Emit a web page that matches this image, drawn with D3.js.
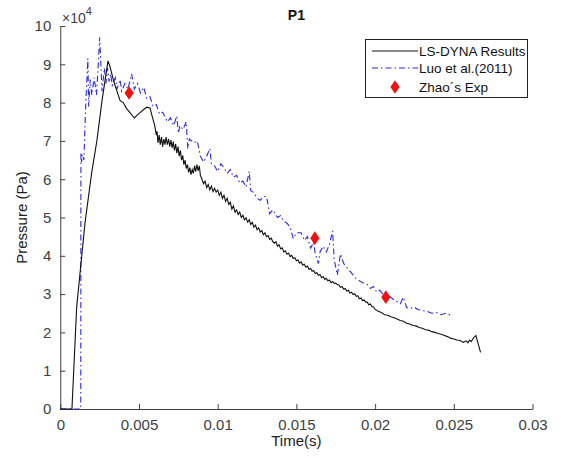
<!DOCTYPE html>
<html><head><meta charset="utf-8">
<script src="https://cdn.jsdelivr.net/npm/d3@7/dist/d3.min.js"></script>
<style>body{margin:0;background:#fff}svg{display:block}text{font-family:"Liberation Sans",Arial,sans-serif}</style>
</head><body><svg id="c" width="574" height="461"></svg>
<script>
// LS-DYNA Results: time (s), pressure (x10^4 Pa)
const lsdynaT = [0,0.00074,0.00104,0.00157,0.00199,0.00233,0.00265,0.00303,0.00315,0.0034,0.0036,0.0038,0.0040,0.0042,0.0044,0.0046,0.0047,0.0049,0.0051,0.0053,0.0055,0.0057,0.0058,0.0059,0.0060,0.0061,0.00615,0.0062,0.00628,0.00635,0.00643,0.0065,0.00658,0.00665,0.00672,0.0068,0.00688,0.00695,0.00703,0.0071,0.00718,0.00725,0.00733,0.0074,0.00748,0.00755,0.00763,0.0077,0.00778,0.00785,0.00793,0.008,0.00808,0.00815,0.00823,0.0083,0.00838,0.00845,0.00853,0.0086,0.00868,0.00875,0.00883,0.0089,0.009,0.0091,0.0092,0.0093,0.0094,0.0095,0.0096,0.0097,0.0098,0.0099,0.0100,0.0101,0.0102,0.0103,0.0104,0.0105,0.0106,0.0107,0.0108,0.0109,0.0110,0.0111,0.0112,0.0113,0.0114,0.0115,0.0116,0.0117,0.0118,0.0119,0.0120,0.0121,0.0122,0.0123,0.0124,0.0125,0.0126,0.0127,0.0128,0.0129,0.0130,0.0131,0.0132,0.0133,0.0134,0.0135,0.0136,0.0137,0.0138,0.0139,0.0140,0.0141,0.0142,0.0143,0.0144,0.0145,0.0146,0.0147,0.0148,0.0149,0.0150,0.0151,0.0152,0.0153,0.0154,0.0155,0.0156,0.0157,0.0158,0.0159,0.0160,0.0161,0.0162,0.0163,0.0164,0.0165,0.0166,0.0167,0.0168,0.0169,0.0170,0.0171,0.0172,0.0173,0.0174,0.0175,0.0176,0.0177,0.0178,0.0179,0.0180,0.0181,0.0182,0.0183,0.0184,0.0185,0.0186,0.0187,0.0188,0.0189,0.0190,0.0191,0.0192,0.0193,0.0194,0.0195,0.0196,0.0197,0.0198,0.0199,0.0200,0.0202,0.0204,0.0206,0.0208,0.0210,0.0212,0.0214,0.0216,0.0218,0.0220,0.0222,0.0224,0.0226,0.0228,0.0230,0.0232,0.0234,0.0236,0.0238,0.0240,0.0242,0.0244,0.0246,0.0248,0.0250,0.0252,0.0254,0.0256,0.0258,0.0259,0.0260,0.0261,0.0263,0.0264,0.02655,0.0267];
const lsdynaP = [0,0,2.66,4.86,6.16,7.02,8.05,9.09,8.95,8.55,8.3,8.05,8.0,7.85,7.75,7.65,7.6,7.68,7.75,7.82,7.88,7.86,7.7,7.55,7.4,7.15,7.25,6.95,7.15,6.9,7.1,6.85,7.05,6.9,7.1,6.9,7.05,6.85,7.02,6.82,6.98,6.75,6.92,6.68,6.85,6.6,6.75,6.5,6.62,6.38,6.5,6.28,6.38,6.18,6.3,6.12,6.25,6.15,6.35,6.2,6.38,6.22,6.35,6.1,6.0,5.88,5.95,5.78,5.86,5.72,5.82,5.68,5.76,5.66,5.72,5.58,5.66,5.5,5.58,5.42,5.5,5.34,5.4,5.22,5.3,5.14,5.2,5.08,5.14,5.0,5.06,4.94,4.99,4.88,4.94,4.82,4.87,4.75,4.8,4.68,4.73,4.62,4.66,4.55,4.6,4.5,4.53,4.43,4.46,4.37,4.33,4.37,4.25,4.29,4.18,4.21,4.1,4.13,4.04,4.07,3.98,4.01,3.93,3.95,3.87,3.89,3.81,3.84,3.76,3.78,3.7,3.73,3.65,3.67,3.6,3.61,3.54,3.56,3.49,3.51,3.43,3.46,3.38,3.41,3.35,3.37,3.3,3.33,3.28,3.29,3.25,3.24,3.18,3.2,3.13,3.15,3.08,3.1,3.03,3.05,2.99,3.01,2.94,2.96,2.88,2.9,2.83,2.85,2.79,2.79,2.72,2.74,2.67,2.67,2.6,2.55,2.52,2.46,2.45,2.41,2.38,2.35,2.31,2.29,2.24,2.22,2.18,2.17,2.13,2.11,2.07,2.06,2.02,2.0,1.97,1.95,1.92,1.89,1.85,1.83,1.8,1.79,1.74,1.78,1.73,1.8,1.76,1.88,1.92,1.7,1.48];

// Luo et al. (2011)
const luoT = [0,0.0013,0.00131,0.00135,0.0014,0.0015,0.0016,0.00175,0.0018,0.0019,0.002,0.00215,0.0023,0.0024,0.0025,0.0026,0.00265,0.0028,0.0029,0.003,0.0031,0.0032,0.0033,0.0035,0.0036,0.0038,0.0039,0.0041,0.0043,0.00453,0.0047,0.0049,0.0051,0.0053,0.0055,0.0057,0.0059,0.0061,0.0063,0.0065,0.0068,0.007,0.0072,0.0074,0.0075,0.0076,0.0078,0.008,0.0081,0.0082,0.0085,0.0087,0.0089,0.0091,0.0093,0.0095,0.0096,0.0098,0.01,0.0102,0.0104,0.0106,0.0108,0.011,0.0112,0.0114,0.0116,0.0118,0.012,0.0121,0.0123,0.0125,0.0127,0.0129,0.0131,0.0133,0.0135,0.0138,0.014,0.0142,0.0144,0.0146,0.0148,0.015,0.0153,0.0155,0.0157,0.0159,0.0161,0.0162,0.0164,0.0165,0.0167,0.0169,0.0171,0.0173,0.0174,0.0176,0.0178,0.018,0.0182,0.0184,0.0186,0.0188,0.019,0.0192,0.0195,0.0197,0.0199,0.0201,0.0203,0.0206,0.0209,0.0212,0.0214,0.0216,0.0218,0.022,0.0222,0.0225,0.0227,0.023,0.0233,0.0236,0.0239,0.0242,0.0245,0.0248];
const luoP = [0,0,6.7,6.45,6.65,6.5,7.8,9.15,7.9,8.6,8.2,8.65,8.2,8.9,9.7,8.8,8.3,8.9,8.5,8.9,8.55,8.75,8.45,8.65,8.35,8.6,8.3,8.5,8.35,8.75,8.35,8.5,8.25,8.4,8.1,8.15,7.9,7.95,7.7,7.75,7.5,7.6,7.4,7.65,7.2,7.4,7.3,7.5,6.8,7.05,6.95,7.0,6.6,6.45,6.6,6.8,6.4,6.35,6.2,6.4,6.3,6.15,6.25,6.05,6.1,5.9,5.95,5.8,6.2,5.7,5.65,5.5,5.45,5.55,5.55,5.1,5.2,5.0,5.05,4.9,4.85,4.75,4.45,4.6,4.6,4.4,4.5,4.2,4.35,4.05,3.8,4.1,4.25,4.1,4.3,4.65,3.9,3.5,4.05,3.8,3.7,3.6,3.5,3.4,3.35,3.3,3.25,3.15,3.2,3.05,3.1,2.95,2.95,2.85,2.8,2.75,2.92,2.65,2.62,2.66,2.6,2.57,2.55,2.5,2.52,2.46,2.5,2.45];

// Zhao's Exp
const zhaoT = [0.00437,0.01617,0.02068];
const zhaoP = [8.25,4.46,2.92];

const xTicks = [0,0.005,0.01,0.015,0.02,0.025,0.03];
const xTickLabels = ["0","0.005","0.01","0.015","0.02","0.025","0.03"];
const yTicks = [0,1,2,3,4,5,6,7,8,9,10];
const legendLabels = ["LS-DYNA Results","Luo et al.(2011)","Zhao\u00b4s Exp"];

const svg = d3.select("#c");
const L = 60.3, R = 532.5, T = 26, B = 409;
const x = d3.scaleLinear().domain([0,0.03]).range([L,R]);
const y = d3.scaleLinear().domain([0,10]).range([B,T]);
const axCol = "#404040";

// axes
const xa = svg.append("g").attr("transform",`translate(0,${B})`)
  .call(d3.axisBottom(x).tickValues(xTicks).tickFormat((d,i)=>xTickLabels[i]).tickSizeInner(-5).tickSizeOuter(0).tickPadding(10));
const ya = svg.append("g").attr("transform",`translate(${L},0)`)
  .call(d3.axisLeft(y).tickValues(yTicks).tickFormat(d3.format("d")).tickSizeInner(-5).tickSizeOuter(0).tickPadding(9));
[xa,ya].forEach(g=>{
  g.attr("font-size",15).attr("font-family","Liberation Sans, Arial, sans-serif");
  g.select(".domain").attr("stroke",axCol).attr("stroke-width",1);
  g.selectAll(".tick line").attr("stroke",axCol);
  g.selectAll(".tick text").attr("fill",axCol).attr("font-size",15);
});

// lines
const line = d3.line().x(d=>x(d[0])).y(d=>y(d[1]));
const luoData = luoT.map((t,i)=>[t,luoP[i]]);
const lsData = lsdynaT.map((t,i)=>[t,lsdynaP[i]]);
svg.append("path").datum(luoData).attr("d",line).attr("fill","none")
  .attr("stroke","#2a2ae0").attr("stroke-width",1.1).attr("stroke-dasharray","6,3,1.5,3");
svg.append("path").datum(lsData).attr("d",line).attr("fill","none")
  .attr("stroke","#111").attr("stroke-width",1.1);

const diamond = d3.symbol().type(d3.symbolDiamond).size(60);
svg.selectAll(".zh").data(zhaoT).enter().append("path")
  .attr("d",diamond).attr("fill","#f01010")
  .attr("transform",(d,i)=>`translate(${x(d)},${y(zhaoP[i])}) scale(1.1,0.95)`);

// texts
svg.append("text").attr("x",(L+R)/2).attr("y",20).attr("text-anchor","middle")
  .attr("font-size",14).attr("font-weight","bold").attr("fill","#111").text("P1");
const ex = svg.append("text").attr("x",62).attr("y",23).attr("font-size",14).attr("fill",axCol);
ex.append("tspan").text("\u00d710");
ex.append("tspan").attr("dy",-8).attr("font-size",11).text("4");
svg.append("text").attr("x",(L+R)/2).attr("y",446).attr("text-anchor","middle")
  .attr("font-size",15).attr("fill","#222").text("Time(s)");
svg.append("text").attr("transform",`translate(27,${(T+B)/2}) rotate(-90)`).attr("text-anchor","middle")
  .attr("font-size",15).attr("fill","#222").text("Pressure (Pa)");

// legend
const lg = svg.append("g");
lg.append("rect").attr("x",365.5).attr("y",39.5).attr("width",162).attr("height",58)
  .attr("fill","#fff").attr("stroke","#222").attr("stroke-width",1);
const rowsY = [51,68,87];
lg.append("line").attr("x1",372).attr("x2",418).attr("y1",rowsY[0]).attr("y2",rowsY[0]).attr("stroke","#111").attr("stroke-width",1.1);
lg.append("line").attr("x1",372).attr("x2",418).attr("y1",rowsY[1]).attr("y2",rowsY[1]).attr("stroke","#2a2ae0").attr("stroke-width",1.1).attr("stroke-dasharray","6,3,1.5,3");
lg.append("path").attr("d",diamond).attr("fill","#f01010").attr("transform",`translate(395,${rowsY[2]}) scale(1.1,0.95)`);
legendLabels.forEach((s,i)=>{
  lg.append("text").attr("x",419).attr("y",rowsY[i]+5).attr("font-size",13.5).attr("fill","#111").text(s);
});
</script></body></html>
